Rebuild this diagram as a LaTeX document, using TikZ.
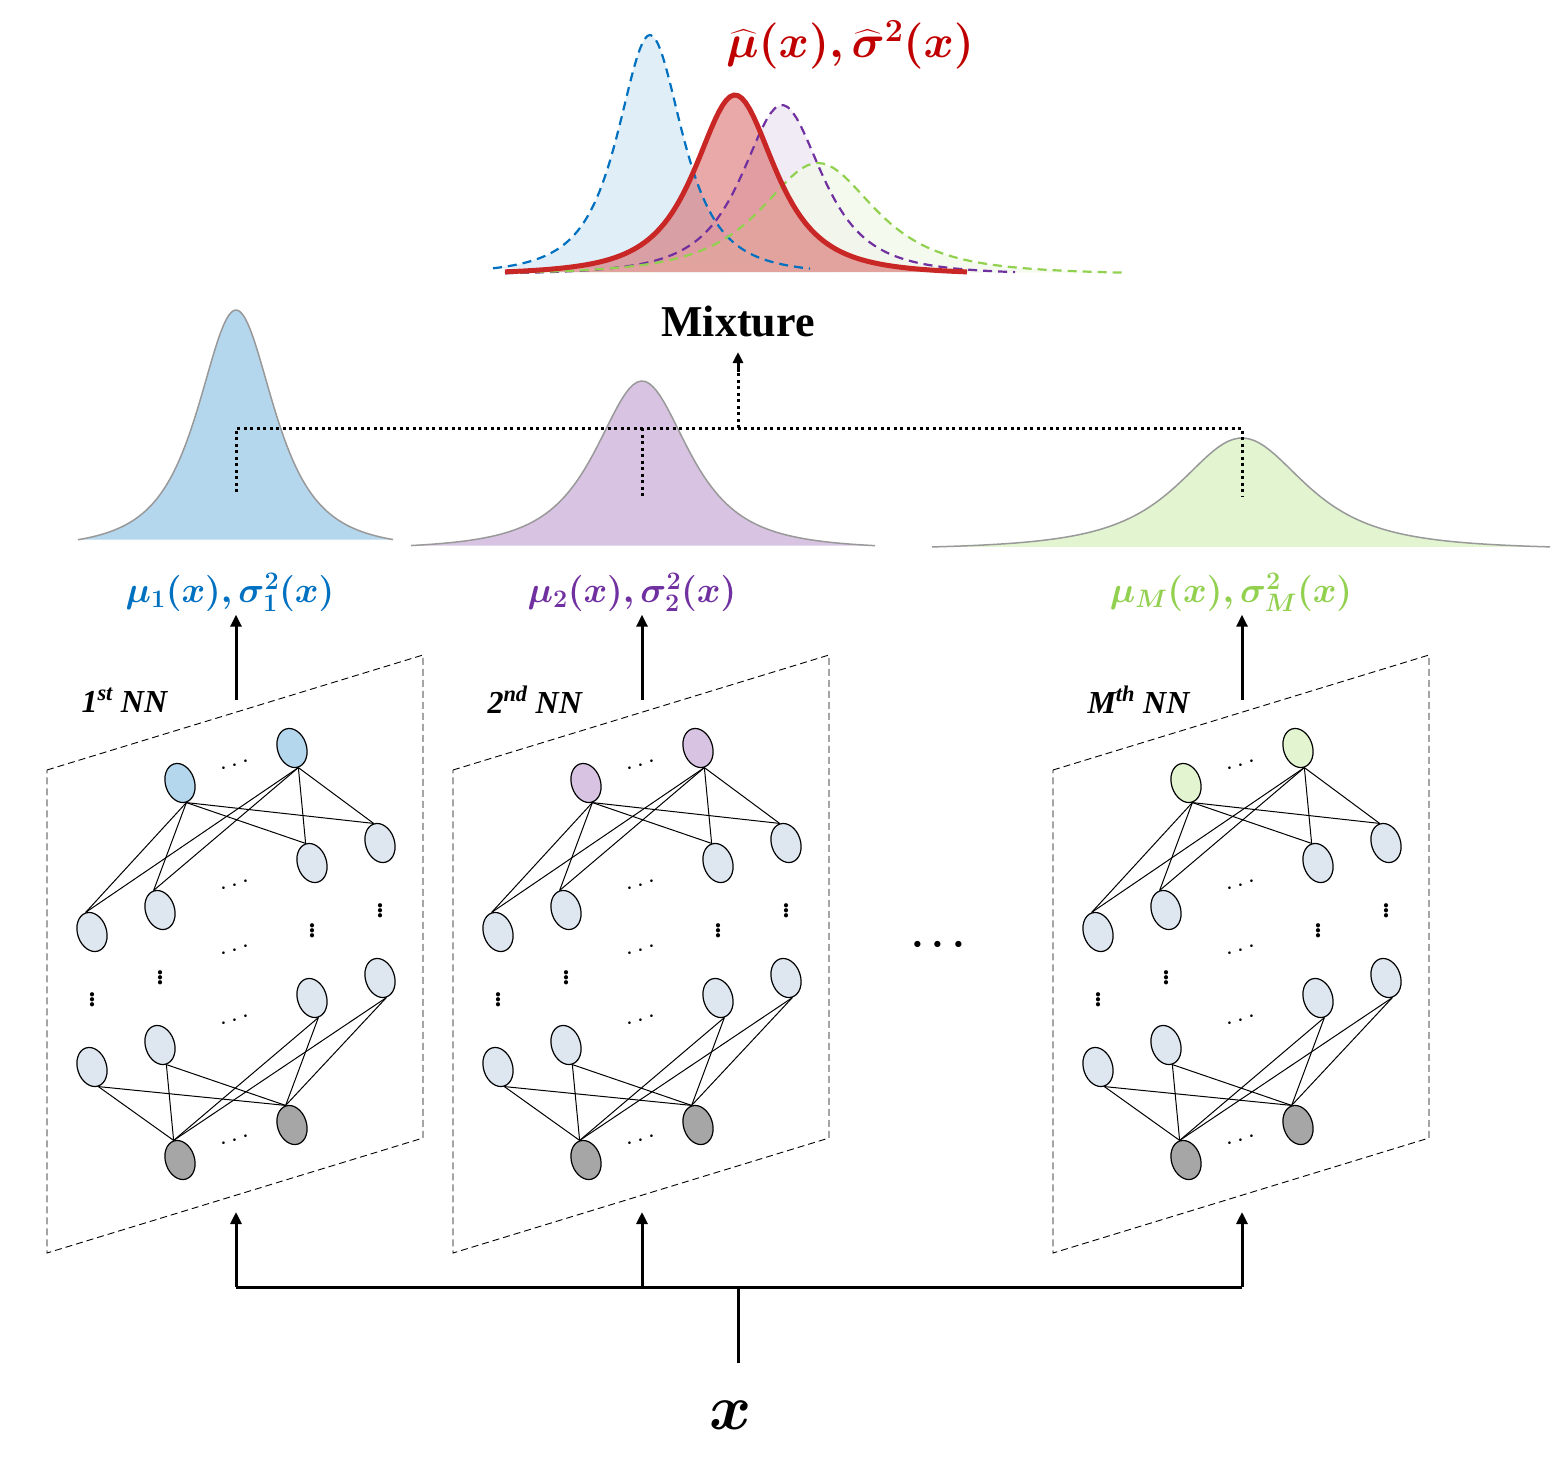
\RequirePackage{fix-cm}
\documentclass[tikz,border=0pt]{standalone}
\usepackage{amsmath,bm}
\usepackage{fontspec}
\setmainfont{Liberation Serif}
\usetikzlibrary{shapes.geometric,arrows.meta}
\definecolor{cblue}{HTML}{0070C0}
\definecolor{cpurp}{HTML}{7030A0}
\definecolor{cgreen}{HTML}{92D050}
\definecolor{cred}{HTML}{C00000}
\definecolor{nlight}{HTML}{DEE6F0}
\definecolor{nblue}{HTML}{B4D7EE}
\definecolor{npurp}{HTML}{D9C3E2}
\definecolor{ngreen}{HTML}{E2F5D0}
\definecolor{ngray}{HTML}{A6A6A6}
\tikzset{
 neuron/.style={ellipse,draw=black,line width=1.2pt,minimum width=29,minimum height=40,inner sep=0,rotate=18},
 link/.style={line width=1pt},
 hdots/.style={font=\fontsize{26}{26}\selectfont\bfseries,rotate=18},
 vdots/.style={font=\fontsize{26}{26}\selectfont\bfseries},
 thickarrow/.style={line width=3pt,-{Triangle[length=12pt,width=11pt]}},
 dotline/.style={line width=3pt,dash pattern=on 3pt off 3.5pt},
 nnlabel/.style={font=\fontsize{32}{32}\selectfont\bfseries\itshape},
 mlabel/.style={font=\fontsize{36}{36}\selectfont},
 mdash/.style={dash pattern=on 9pt off 6pt,line width=2.2pt},
}
\newcommand\nnpanel[4]{%
\begin{scope}[xshift=#1]
 \draw[dash pattern=on 7pt off 4pt,line width=0.9pt] (47,770) -- (423,655) -- (423,1138) -- (47,1253) -- cycle;
 \node[nnlabel,anchor=west] (#3lab) at (78,700) {#4};
 \node[neuron,fill=#2] (#3A1) at (180,783) {};
 \node[neuron,fill=#2] (#3A2) at (292,748) {};
 \node[neuron,fill=nlight] (#3B1) at (92,932) {};
 \node[neuron,fill=nlight] (#3B2) at (160,910) {};
 \node[neuron,fill=nlight] (#3B3) at (312,863) {};
 \node[neuron,fill=nlight] (#3B4) at (380,843) {};
 \node[neuron,fill=nlight] (#3C1) at (92,1067) {};
 \node[neuron,fill=nlight] (#3C2) at (160,1045) {};
 \node[neuron,fill=nlight] (#3C3) at (312,998) {};
 \node[neuron,fill=nlight] (#3C4) at (380,978) {};
 \node[neuron,fill=ngray] (#3D1) at (180,1160) {};
 \node[neuron,fill=ngray] (#3D2) at (292,1125) {};
 \foreach \a in {A1,A2}{\foreach \b in {B1,B2,B3,B4}{\draw[link] (#3\a.south) -- (#3\b.north);}}
 \foreach \a in {D1,D2}{\foreach \b in {C1,C2,C3,C4}{\draw[link] (#3\a.north) -- (#3\b.south);}}
 \foreach \p in {(237,765),(237,885),(237,950),(237,1020),(237,1140)}{\node[hdots] at \p {$\cdots$};}
 \foreach \p in {(92,997),(160,975),(312,928),(380,908)}{\node[vdots] at \p {$\vdots$};}
\end{scope}}
\newcommand\bell[6]{% xmin xmax peak height w base
 plot[domain=#1:#2,samples=120] (\x,{#6-#4/(1+((\x-#3)/#5)^2)^1.5})}
\begin{document}
\begin{tikzpicture}[x=1pt,y=-1pt]
\useasboundingbox (0,0) rectangle (1551,1461);
% individual distributions
\fill[nblue] \bell{78}{393}{236}{240}{59}{550} -- cycle;
\draw[gray!80,line width=1.5pt] \bell{78}{393}{236}{240}{59}{550};
\fill[npurp] \bell{411}{875}{642}{169}{72}{550} -- cycle;
\draw[gray!80,line width=1.5pt] \bell{411}{875}{642}{169}{72}{550};
\fill[ngreen] \bell{932}{1550}{1242}{112}{98}{550} -- cycle;
\draw[gray!80,line width=1.5pt] \bell{932}{1550}{1242}{112}{98}{550};
% mixture
\fill[cblue!12] \bell{493}{810}{650}{240}{50}{275} -- cycle;
\fill[cpurp!12,opacity=0.8] \bell{505}{1015}{782}{170}{62}{275} -- cycle;
\fill[cgreen!12,opacity=0.8] \bell{505}{1125}{818}{112}{88}{275} -- cycle;
\fill[cred!75!white,opacity=0.45] \bell{505}{967}{735}{180}{62}{275} -- cycle;
\draw[cblue,mdash] \bell{493}{810}{650}{240}{50}{275};
\draw[cpurp,mdash] \bell{505}{1015}{782}{170}{62}{275};
\draw[cgreen,mdash] \bell{505}{1125}{818}{112}{88}{275};
\draw[cred!85!white,line width=5pt] \bell{505}{967}{735}{180}{62}{275};
\node[text=cred,font=\fontsize{46}{46}\selectfont] (mixlab) at (850,45) {$\bm{\widehat{\mu}(x),\widehat{\sigma}^2(x)}$};
\node[font=\fontsize{44}{44}\selectfont\bfseries] (mix) at (738,322) {Mixture};
% dotted combination
\coordinate (d1) at (236,492); \coordinate (d2) at (642,497); \coordinate (d3) at (1242,497);
\coordinate (h1) at (236,428); \coordinate (h2) at (642,428); \coordinate (h3) at (1242,428);
\coordinate (hm) at (738,428); \coordinate (hv) at (738,372);
\draw[dotline] (d1) -- (h1) -- (h3) -- (d3);
\draw[dotline] (h2) -- (d2);
\draw[dotline] (hm) -- (hv);
\draw[line width=3pt,-{Triangle[length=11pt,width=10pt]}] (hv) -- (mix.south |- 0,352);
% labels
\node[mlabel,text=cblue] (l1) at (230,592) {$\bm{\mu_1(x),\sigma_1^2(x)}$};
\node[mlabel,text=cpurp] (l2) at (632,592) {$\bm{\mu_2(x),\sigma_2^2(x)}$};
\node[mlabel,text=cgreen] (l3) at (1231,592) {$\bm{\mu_M(x),\sigma_M^2(x)}$};
% panels
\nnpanel{0}{nblue}{p}{1\textsuperscript{st} NN}
\nnpanel{406}{npurp}{q}{2\textsuperscript{nd} NN}
\nnpanel{1006}{ngreen}{r}{M\textsuperscript{th} NN}
\node[font=\fontsize{40}{40}\selectfont\bfseries] (bigdots) at (942,945) {$\bm{\cdots}$};
% output arrows
\coordinate (o1) at (236,700); \coordinate (o2) at (642,700); \coordinate (o3) at (1242,700);
\draw[thickarrow] (o1) -- (l1.south -| o1);
\draw[thickarrow] (o2) -- (l2.south -| o2);
\draw[thickarrow] (o3) -- (l3.south -| o3);
% input
\node[font=\fontsize{64}{64}\selectfont] (xin) at (731,1415) {$\bm{x}$};
\coordinate (xs) at (738,1363); \coordinate (xj) at (738,1287);
\coordinate (b1) at (236,1287); \coordinate (b2) at (642,1287); \coordinate (b3) at (1242,1287);
\draw[line width=3pt] (xs) -- (xj);
\draw[line width=3pt] (b1) -- (b3);
\draw[thickarrow] (b1) -- (236,1212);
\draw[thickarrow] (b2) -- (642,1212);
\draw[thickarrow] (b3) -- (1242,1212);
\end{tikzpicture}
\end{document}
